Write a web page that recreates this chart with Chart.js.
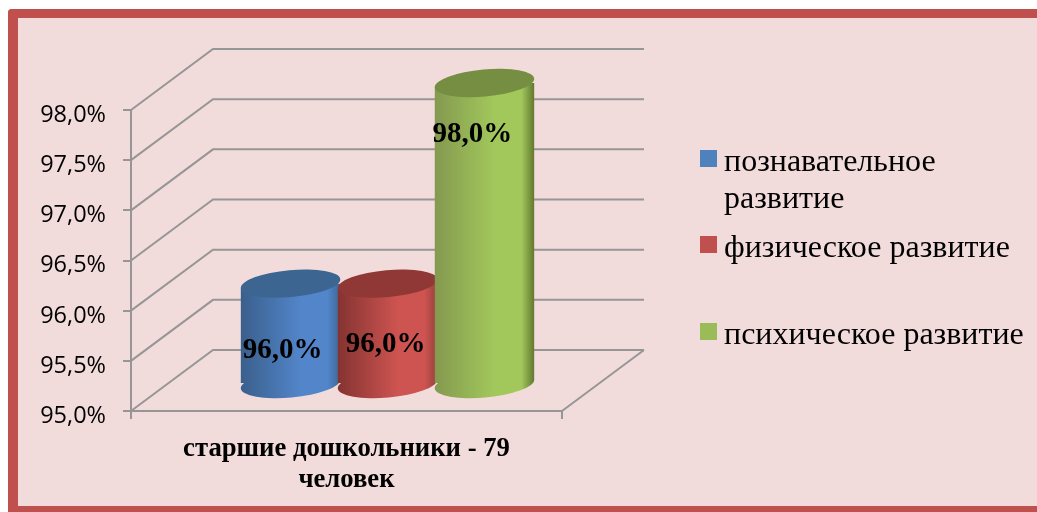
<!DOCTYPE html>
<html>
<head>
<meta charset="utf-8">
<script src="https://cdn.jsdelivr.net/npm/chart.js@4/dist/chart.umd.js"></script>
<style>
  html, body { margin: 0; padding: 0; background: #fff; overflow: hidden; }
  .frame {
    position: absolute; left: 8px; top: 9px; width: 1029px; height: 503px;
    box-sizing: border-box; background: #f2dcdb;
    border-left: 10px solid #c0504d; border-top: 9px solid #c0504d; border-bottom: 6px solid #c0504d;
    border-top-left-radius: 4px;
  }
  canvas { position: absolute; left: 0; top: 0; }
</style>
</head>
<body>
<div class="frame"></div>
<canvas id="chart" width="1037" height="512"></canvas>
<script>
const categories = [["старшие дошкольники - 79", "человек"]];
const seriesNames = ["познавательное развитие", "физическое развитие", "психическое развитие"];
const legendLines = [["познавательное", "развитие"], ["физическое развитие"], ["психическое развитие"]];
const cognitive = [96];
const physical = [96];
const mental = [98];
const tickValues = [95, 95.5, 96, 96.5, 97, 97.5, 98];
const tickLabels = ["95,0%", "95,5%", "96,0%", "96,5%", "97,0%", "97,5%", "98,0%"];

// side colours: edge, highlight, far edge; then cylinder top
const sideColors = [
  ["#3a5f8c", "#5285c9", "#3c6594"],
  ["#843331", "#cd5450", "#96403d"],
  ["#84994f", "#a2c85c", "#61772f"],
];
const topColors = ["#3d6591", "#8f3836", "#768e42"];

const GRID = "#969696";
const WALL_DX = 82, WALL_DY = 61;   // depth of the back wall
const BAR_DX = 41, BAR_DY = 27;     // cylinders stand in the middle of the floor
const CATEGORY_PCT = 0.675, BAR_PCT = 1.03;
const RY = 13.5, TILT = -0.09;
const LABEL_SHIFT = [[-8, 67], [-2, 61], [-12, 52]];

// gradient in the same coordinates as the bars, the draw code does the depth shift
function sideGradient(chart, i) {
  const slot = chart.chartArea.width * CATEGORY_PCT / 3;
  const center = chart.scales.x.getPixelForValue(0) + (i - 1) * slot;
  const half = slot * BAR_PCT / 2;
  const g = chart.ctx.createLinearGradient(center - half, 0, center + half, 0);
  const c = sideColors[i];
  g.addColorStop(0, c[0]);
  g.addColorStop(0.6, c[1]);
  g.addColorStop(0.87, c[1]);
  g.addColorStop(1, c[2]);
  return g;
}

function drawCylinder(chart, i) {
  const { ctx, chartArea } = chart;
  const meta = chart.getDatasetMeta(i);
  const bar = meta.data[0];
  const rx = bar.width / 2;
  const rise = rx * Math.tan(TILT);

  ctx.save();
  ctx.translate(BAR_DX, -BAR_DY);
  ctx.save();
  // cut the plain rectangle to a tilted body, the ellipses finish the ends
  ctx.beginPath();
  ctx.moveTo(bar.x - rx, bar.y - rise);
  ctx.lineTo(bar.x + rx, bar.y + rise);
  ctx.lineTo(bar.x + rx, chartArea.bottom + rise);
  ctx.lineTo(bar.x - rx, chartArea.bottom - rise);
  ctx.closePath();
  ctx.clip();
  meta.controller.draw();
  ctx.restore();

  ctx.fillStyle = sideGradient(chart, i);
  ctx.beginPath();
  ctx.ellipse(bar.x, chartArea.bottom, rx, RY, TILT, 0, Math.PI * 2);
  ctx.fill();
  ctx.fillStyle = topColors[i];
  ctx.beginPath();
  ctx.ellipse(bar.x, bar.y, rx, RY, TILT, 0, Math.PI * 2);
  ctx.fill();
  ctx.restore();
}

const scene = {
  id: "scene",
  beforeDatasetsDraw(chart) {
    const { ctx, chartArea, scales } = chart;
    ctx.save();
    ctx.strokeStyle = GRID;
    ctx.lineWidth = 2;
    tickValues.forEach((v) => {
      const y = scales.y.getPixelForValue(v);
      ctx.beginPath();
      ctx.moveTo(chartArea.left, y);
      ctx.lineTo(chartArea.left + WALL_DX, y - WALL_DY);
      ctx.lineTo(chartArea.right + WALL_DX, y - WALL_DY);
      ctx.stroke();
    });
    ctx.beginPath();
    ctx.moveTo(chartArea.right + WALL_DX, chartArea.bottom - WALL_DY);
    ctx.lineTo(chartArea.right, chartArea.bottom);
    ctx.stroke();
    ctx.restore();
  },
  // chart.js paints the first dataset last, here the right one has to stay in front
  beforeDatasetDraw() {
    return false;
  },
  afterDatasetsDraw(chart) {
    const { ctx } = chart;
    chart.data.datasets.forEach((ds, i) => drawCylinder(chart, i));
    ctx.save();
    ctx.fillStyle = "#000";
    ctx.font = "bold 29px 'Liberation Serif'";
    ctx.textAlign = "center";
    ctx.textBaseline = "middle";
    chart.data.datasets.forEach((ds, i) => {
      const bar = chart.getDatasetMeta(i).data[0];
      const text = ds.data[0].toFixed(1).replace(".", ",") + "%";
      ctx.fillText(text, bar.x + BAR_DX + LABEL_SHIFT[i][0], bar.y - BAR_DY + LABEL_SHIFT[i][1]);
    });
    ctx.restore();
  },
  afterDraw(chart) {
    const { ctx } = chart;
    const swatchY = [150, 236, 323];
    const swatchColors = ["#4f81bd", "#c0504d", "#9bbb59"];
    ctx.save();
    ctx.font = "32px 'Liberation Serif'";
    ctx.textAlign = "left";
    ctx.textBaseline = "alphabetic";
    legendLines.forEach((lines, i) => {
      ctx.fillStyle = swatchColors[i];
      ctx.fillRect(700, swatchY[i], 17, 17);
      ctx.fillStyle = "#000";
      lines.forEach((line, n) => ctx.fillText(line, 724, swatchY[i] + 21 + n * 37));
    });
    ctx.restore();
  },
};

function dataset(name, values, i) {
  return {
    label: name,
    data: values,
    backgroundColor: (c) => (c.chart.chartArea ? sideGradient(c.chart, i) : sideColors[i][1]),
    borderWidth: 0,
    barPercentage: BAR_PCT,
    categoryPercentage: CATEGORY_PCT,
    base: 95,
  };
}

new Chart(document.getElementById("chart"), {
  type: "bar",
  data: {
    labels: categories,
    datasets: [
      dataset(seriesNames[0], cognitive, 0),
      dataset(seriesNames[1], physical, 1),
      dataset(seriesNames[2], mental, 2),
    ],
  },
  options: {
    responsive: false,
    animation: false,
    layout: { padding: { left: 0, right: 475, top: 110, bottom: 0 } },
    plugins: { legend: { display: false }, tooltip: { enabled: false } },
    scales: {
      x: {
        afterFit: (s) => { s.height = 101; },
        border: { color: GRID, width: 2 },
        grid: { drawOnChartArea: false, color: GRID, lineWidth: 2, tickLength: 8 },
        ticks: {
          color: "#000",
          padding: 14,
          maxRotation: 0,
          autoSkip: false,
          font: { family: "'Liberation Serif'", size: 26.7, weight: "bold", lineHeight: 1.17 },
        },
      },
      y: {
        min: 95,
        max: 98,
        afterFit: (s) => { s.width = 131; },
        afterBuildTicks: (s) => { s.ticks = tickValues.map((value) => ({ value })); },
        border: { color: GRID, width: 2 },
        grid: { drawOnChartArea: false, color: GRID, lineWidth: 2, tickLength: 8 },
        ticks: {
          color: "#000",
          padding: 17,
          // empty first line pushes the label a little under its tick, like in the original
          callback: (v) => ["", tickLabels[tickValues.indexOf(v)]],
          font: { family: "'Open Sans'", size: 23.5, lineHeight: 0.45 },
        },
      },
    },
  },
  plugins: [scene],
});
</script>
</body>
</html>
